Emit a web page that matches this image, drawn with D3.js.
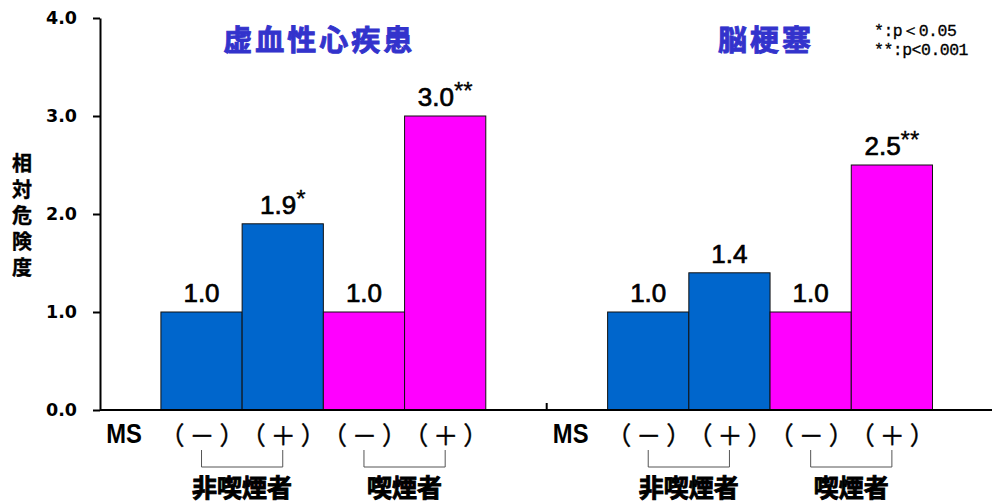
<!DOCTYPE html>
<html>
<head>
<meta charset="utf-8">
<script src="https://cdn.jsdelivr.net/npm/d3@7"></script>
<style>
  html, body { margin: 0; padding: 0; background: #fff; }
  svg { display: block; }
</style>
</head>
<body>
<svg id="viz" width="992" height="503"></svg>
<script>
const panels = ["虚血性心疾患", "脳梗塞"];
const categories = ["nonsmoker-", "nonsmoker+", "smoker-", "smoker+"];
const msLabels = ["（－）", "（＋）", "（－）", "（＋）"];
const smokingGroups = ["非喫煙者", "喫煙者"];
const ihdValues = [1.0, 1.9, 1.0, 3.0];
const strokeValues = [1.0, 1.4, 1.0, 2.5];
const ihdSig = ["", "*", "", "**"];
const strokeSig = ["", "", "", "**"];
const yTicks = [0, 1, 2, 3, 4];
const legendLines = ["*:p＜0.05", "**:p<0.001"];

const barColors = ["#0066cc", "#0066cc", "#ff00ff", "#ff00ff"];
const panelData = [
  { name: panels[0], values: ihdValues, sig: ihdSig },
  { name: panels[1], values: strokeValues, sig: strokeSig }
];

const svg = d3.select("#viz");
const plotLeft = 100, plotRight = 993.4, plotTop = 18, plotBottom = 410;

const y = d3.scaleLinear().domain([0, 4]).range([plotBottom, plotTop]);
const xPanel = d3.scaleBand().domain(panels).range([plotLeft, plotRight]).paddingInner(0).paddingOuter(0);
const xBar = d3.scaleBand().domain(categories).range([0, xPanel.bandwidth()])
  .paddingInner(0).paddingOuter(0.75);

const cjk = "'Noto Sans CJK JP', 'Noto Sans', sans-serif";
const latin = "'Liberation Sans', Arial, sans-serif";

// y axis title, vertical writing
svg.append("text")
  .attr("x", 22).attr("y", 153)
  .style("writing-mode", "vertical-rl")
  .style("text-orientation", "upright")
  .attr("font-family", cjk).attr("font-weight", "bold").attr("font-size", 20)
  .attr("letter-spacing", 6)
  .attr("stroke", "#000").attr("stroke-width", 0.4)
  .text("相対危険度");

// bars
panelData.forEach(p => {
  const g = svg.append("g").attr("transform", `translate(${xPanel(p.name)},0)`);

  g.selectAll("rect").data(p.values).join("rect")
    .attr("x", (d, i) => xBar(categories[i]))
    .attr("y", d => y(d))
    .attr("width", xBar.bandwidth())
    .attr("height", d => y(0) - y(d))
    .attr("fill", (d, i) => barColors[i])
    .attr("stroke", "#111").attr("stroke-width", 1);

  // value labels
  const lab = g.selectAll("text.val").data(p.values).join("text")
    .attr("class", "val")
    .attr("x", (d, i) => xBar(categories[i]) + xBar.bandwidth() / 2)
    .attr("y", d => y(d) - 10)
    .attr("text-anchor", "middle")
    .attr("font-family", latin).attr("font-size", 26)
    .attr("stroke", "#000").attr("stroke-width", 0.7);
  lab.append("tspan").text(d => d.toFixed(1));
  lab.append("tspan").attr("font-size", 24).attr("dy", -7)
    .attr("stroke-width", 0.3)
    .text((d, i) => p.sig[i]);

  // title
  g.append("text")
    .attr("x", xPanel.bandwidth() / 2 - 4)
    .attr("y", 51)
    .attr("text-anchor", "middle")
    .attr("font-family", cjk).attr("font-weight", "bold").attr("font-size", 29)
    .attr("letter-spacing", 3)
    .attr("fill", "#3333cc")
    .attr("stroke", "#3333cc").attr("stroke-width", 0.9)
    .text(p.name);

  // MS label (condensed)
  g.append("text")
    .attr("transform", "translate(24,443) scale(0.85,1)")
    .attr("text-anchor", "middle")
    .attr("font-family", latin)
    .attr("font-weight", "bold").attr("font-size", 28)
    .text("MS");

  // (-) (+) labels
  g.selectAll("text.ms").data(msLabels).join("text")
    .attr("class", "ms")
    .attr("x", (d, i) => xBar(categories[i]) + xBar.bandwidth() / 2 + 3)
    .attr("y", 445)
    .attr("text-anchor", "middle")
    .attr("font-family", cjk).attr("font-size", 25)
    .attr("letter-spacing", 5)
    .attr("stroke", "#000").attr("stroke-width", 0.4)
    .text(d => d);

  // brackets and group labels
  smokingGroups.forEach((s, j) => {
    const xa = xBar(categories[j * 2]) + xBar.bandwidth() / 2;
    const xb = xBar(categories[j * 2 + 1]) + xBar.bandwidth() / 2;
    g.append("path")
      .attr("d", `M${xa},450V467H${xb}V450`)
      .attr("fill", "none").attr("stroke", "#555").attr("stroke-width", 1);
    g.append("text")
      .attr("x", (xa + xb) / 2).attr("y", 497)
      .attr("text-anchor", "middle")
      .attr("font-family", cjk).attr("font-weight", "bold").attr("font-size", 25)
      .attr("stroke", "#000").attr("stroke-width", 0.9)
      .text(s);
  });
});

// y axis
svg.append("g")
  .attr("transform", `translate(${plotLeft},0)`)
  .call(d3.axisLeft(y).tickValues(yTicks).tickFormat(d3.format(".1f"))
    .tickSize(7).tickSizeOuter(0).tickPadding(16))
  .call(g => g.selectAll("path, line").attr("stroke", "#000").attr("stroke-width", 2))
  .call(g => g.selectAll("text")
    .attr("font-family", "'DejaVu Sans', sans-serif")
    .attr("font-weight", "bold").attr("font-size", 17.5).attr("fill", "#000"));

// x axis baseline with panel separators
const xg = svg.append("g");
xg.append("line")
  .attr("x1", plotLeft).attr("x2", 992)
  .attr("y1", y(0)).attr("y2", y(0))
  .attr("stroke", "#000").attr("stroke-width", 2);
xg.selectAll("line.sep").data(panels.slice(1)).join("line")
  .attr("class", "sep")
  .attr("x1", d => xPanel(d)).attr("x2", d => xPanel(d))
  .attr("y1", y(0)).attr("y2", y(0) - 7)
  .attr("stroke", "#000").attr("stroke-width", 2);

// significance legend
svg.append("g").selectAll("text").data(legendLines).join("text")
  .attr("x", 874).attr("y", (d, i) => 36 + i * 19)
  .attr("font-family", "'Liberation Mono', 'DejaVu Sans Mono', monospace")
  .attr("font-size", 16.5)
  .attr("letter-spacing", -0.5)
  .attr("stroke", "#000").attr("stroke-width", 0.3)
  .text(d => d);
</script>
</body>
</html>
